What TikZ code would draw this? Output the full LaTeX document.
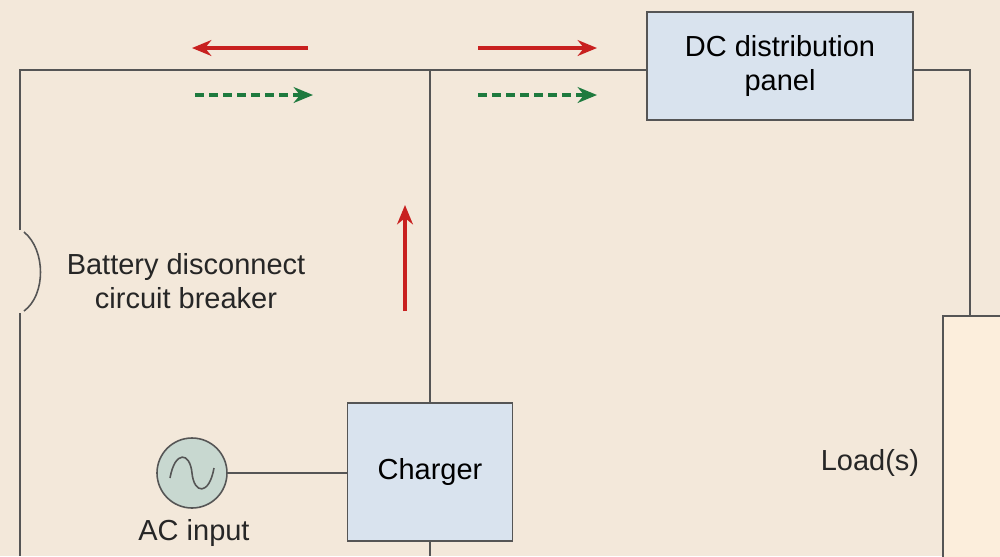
\documentclass[tikz,border=0pt]{standalone}
\usepackage{fontspec}
\setmainfont{Liberation Sans}
\usetikzlibrary{arrows.meta}
\definecolor{bg}{HTML}{F3E8DA}
\definecolor{boxblue}{HTML}{D9E3EE}
\definecolor{loadfill}{HTML}{FCEEDC}
\definecolor{acfill}{HTML}{C8D8D0}
\definecolor{wire}{HTML}{555555}
\definecolor{flowred}{HTML}{C8201F}
\definecolor{flowgreen}{HTML}{1E7A3E}
\begin{document}
\begin{tikzpicture}[x=0.02cm,y=-0.02cm,
  box/.style={draw=wire,line width=0.9pt,fill=boxblue,align=center,font=\fontsize{16.5}{19}\selectfont},
  lbl/.style={align=center,font=\fontsize{16.5}{19}\selectfont,text=black!85},
  wr/.style={draw=wire,line width=0.9pt},
  red/.style={draw=flowred,line width=1.8pt,-{Stealth[length=11pt,width=9pt]}},
  green/.style={draw=flowgreen,line width=1.8pt,dash pattern=on 5pt off 3pt,-{Stealth[length=11pt,width=9pt]}}]
\fill[bg] (0,0) rectangle (1000,556);
\useasboundingbox (0,0) rectangle (1000,556);
% boxes
\node[box,minimum width=266*0.02cm,minimum height=108*0.02cm] (dc) at (780,66) {DC distribution\\panel};
\node[box,minimum width=165*0.02cm,minimum height=138*0.02cm] (ch) at (430,472) {Charger};
\node[draw=wire,line width=0.9pt,fill=loadfill,minimum width=100*0.02cm,minimum height=300*0.02cm,anchor=north west] (load) at (942,315) {};
\node[circle,draw=wire,line width=0.9pt,fill=acfill,minimum size=70*0.02cm] (ac) at (192,473) {};
\draw[wire,line width=0.9pt] (170,478) .. controls (175,450) and (190,452) .. (192,473) .. controls (194,494) and (209,496) .. (214,468);
% coordinates
\coordinate (tl) at (20,70);
\coordinate (tm) at (430,70);
\coordinate (tr) at (970,70);
\coordinate (b1) at (20,230);
\coordinate (b2) at (20,313);
\coordinate (bl) at (20,556);
\coordinate (chb) at (430,556);
% wires
\draw[wr] (b1) -- (tl) -- (tl-|dc.west);
\draw[wr] (tr-|dc.east) -- (tr) -- (tr|-load.north);
\draw[wr] (tm) -- (ch.north);
\draw[wr] (ch.south) -- (chb);
\draw[wr] (b2) -- (bl);
\draw[wr] (ac.east) -- (ch.west|-ac.east);
\draw[wr] (24,232) .. controls (46,250) and (46,295) .. (24,311);
% labels
\node[lbl] (bd) at (186,281) {Battery disconnect\\circuit breaker};
\node[lbl] (aci) at (194,533) {AC input};
\node[lbl] (ld) at (870,463) {Load(s)};
% flow arrows
\coordinate (r1s) at (308,48); \coordinate (r1e) at (192,48);
\coordinate (r2s) at (478,48); \coordinate (r2e) at (597,48);
\coordinate (r3s) at (405,311); \coordinate (r3e) at (405,205);
\coordinate (g1s) at (195,95); \coordinate (g1e) at (313,95);
\coordinate (g2s) at (478,95); \coordinate (g2e) at (597,95);
\draw[red] (r1s) -- (r1e);
\draw[red] (r2s) -- (r2e);
\draw[red] (r3s) -- (r3e);
\draw[green] (g1s) -- (g1e);
\draw[green] (g2s) -- (g2e);
\end{tikzpicture}
\end{document}
